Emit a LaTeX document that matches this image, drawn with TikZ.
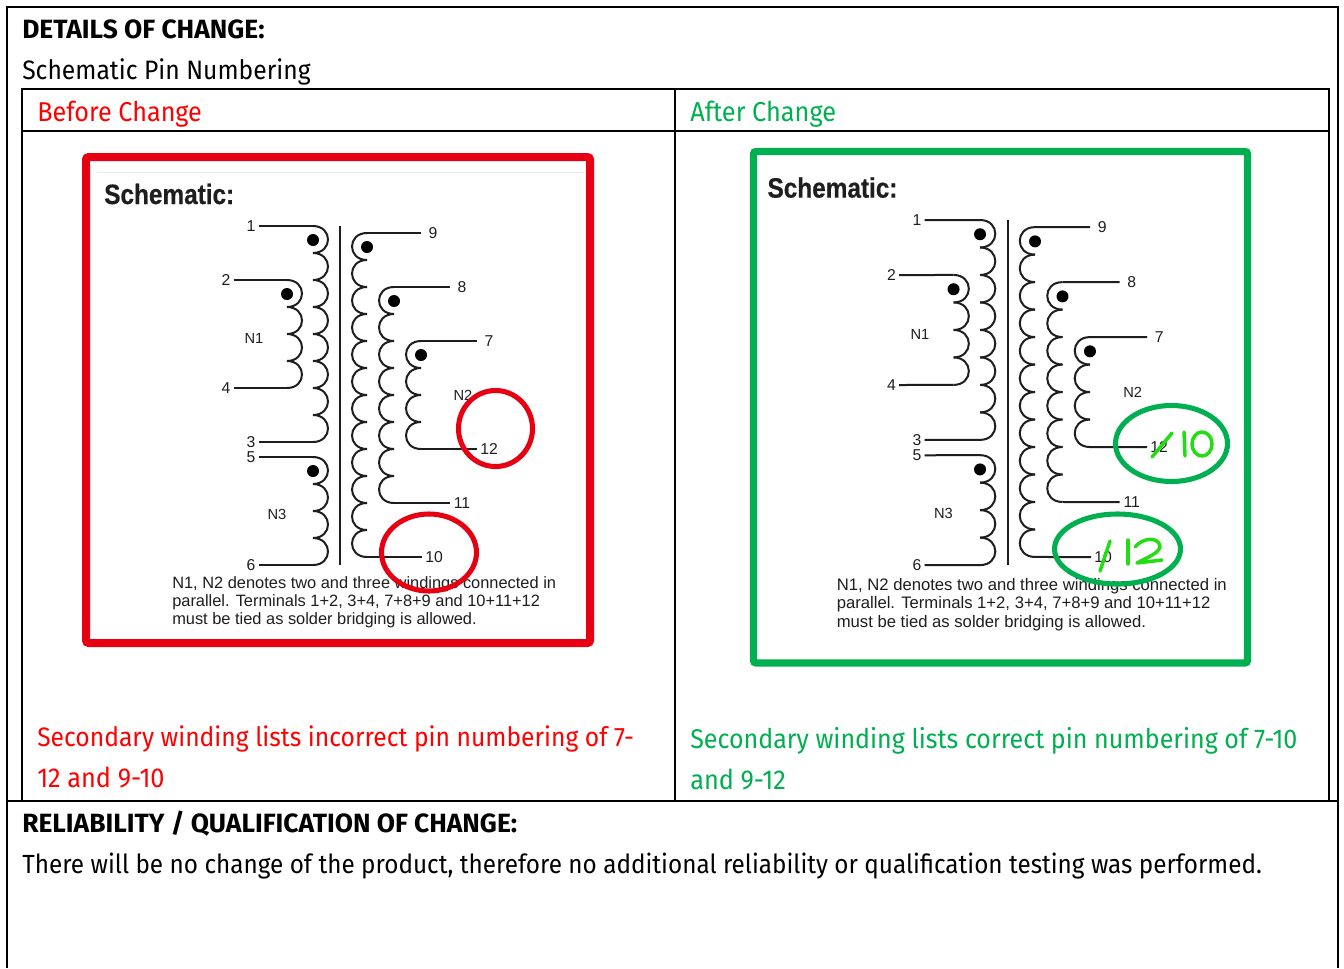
\documentclass[tikz,border=0pt]{standalone}
\usepackage{fontspec}
\setmainfont[FakeStretch=0.925]{Fira Sans}
\newfontfamily\headfont{Fira Sans}
\newfontfamily\schemfont{Liberation Sans}
\newfontfamily\schemhead[FakeStretch=0.87,BoldFeatures={FakeBold=0.5}]{Liberation Sans}
\definecolor{markred}{HTML}{E60012}
\definecolor{markgreen}{HTML}{00B050}
\definecolor{textgreen}{HTML}{00B050}
\definecolor{inkgreen}{HTML}{22DD11}
\definecolor{schemink}{HTML}{1E1E1E}
\tikzset{
  wire/.style={line width=1.5pt,schemink},
  rule/.style={line width=1.5pt,black},
  para/.style={anchor=base west,inner sep=0pt,font=\fontsize{20}{24}\selectfont},
  parabold/.style={para,font=\headfont\fontsize{19.8}{24}\selectfont\bfseries},
  pinlabel/.style={inner sep=0pt,text=schemink,font=\schemfont\fontsize{11.8}{13}\selectfont},
  leftpin/.style={pinlabel,minimum width=11pt},
  rightpin/.style={pinlabel,minimum width=18pt},
  schemtitle/.style={anchor=base west,inner sep=0pt,text=schemink,font=\schemhead\bfseries\fontsize{21}{24}\selectfont},
  schemtext/.style={anchor=base west,inner sep=0pt,text=schemink,font=\schemfont\fontsize{12.3}{14}\selectfont},
  dot/.style={circle,fill=black,inner sep=0pt,minimum size=9pt},
  inkstroke/.style={line width=2.6pt,inkgreen,line cap=round,line join=round},
}
% top pin, bottom pin, cusp x, top y, bumps, side
\newcommand{\windcoil}[6]{
  \draw[wire] (#1) -- (#3,#4);
  \foreach \k in {1,...,#5}
    \draw[wire] (#3,{#4+(\k-1)*27}) .. controls ({#3+#6*20},{#4+(\k-1)*27}) and ({#3+#6*20},{#4+\k*27}) .. (#3,{#4+\k*27});
  \draw[wire] (#3,{#4+#5*27}) -- (#2);
  \node[dot] (#1dot) at ({#3},{#4+14}) {};
}
% one schematic, scope decides prefix and placement
\newcommand{\schematic}{
  \foreach \pin/\px/\py in {1/251/226,3/251/442,2/226/280,4/226/388,5/251/457,6/251/565}
    \node[leftpin] (pin\pin) at (\px,\py) {\pin};
  \foreach \pin/\px/\py in {9/433/233,10/434/557,8/462/287,11/462/503,7/489/341,12/489/449}
    \node[rightpin] (pin\pin) at (\px,\py) {\pin};
  \windcoil{pin1}{pin3}{313}{226}{8}{1}
  \windcoil{pin2}{pin4}{287}{280}{4}{1}
  \windcoil{pin5}{pin6}{313}{457}{4}{1}
  \windcoil{pin9}{pin10}{367}{233}{12}{-1}
  \windcoil{pin8}{pin11}{394}{287}{8}{-1}
  \windcoil{pin7}{pin12}{421}{341}{4}{-1}
  \coordinate (coretop) at (340,226);
  \coordinate (corebot) at (340,565);
  \draw[wire] (coretop) -- (corebot);
  \node[pinlabel,font=\schemfont\fontsize{11}{13}\selectfont] (labn1) at (254,338) {N1};
  \node[pinlabel,font=\schemfont\fontsize{11}{13}\selectfont] (labn3) at (277,514) {N3};
  \node[pinlabel,font=\schemfont\fontsize{11}{13}\selectfont] (labn2) at (463,395) {N2};
}
\begin{document}
\begin{tikzpicture}[x=0.75pt,y=-0.75pt]
\useasboundingbox (0,0) rectangle (1344,968);
\fill[white] (0,0) rectangle (1344,968);
% page frame and table
\draw[rule] (7,968) -- (7,7) -- (1338,7) -- (1338,968);
\draw[rule] (7,801) -- (1338,801);
\draw[rule] (22,89) rectangle (1329,801);
\draw[rule] (22,131) -- (1329,131);
\draw[rule] (675,89) -- (675,801);
% headings
\node[parabold] (dethead) at (22,38) {DETAILS OF CHANGE:};
\node[para] (detsub) at (22,79) {Schematic Pin Numbering};
\node[para,text=red,font=\fontsize{20.4}{24}\selectfont] (beforehead) at (37,121) {Before Change};
\node[para,text=textgreen,font=\fontsize{20.5}{24}\selectfont] (afterhead) at (690,121) {After Change};
% before
\begin{scope}[name prefix=b-]
\draw[line width=0.6pt,black!8] (97,172) -- (585,172);
\node[schemtitle] (title) at (104,204) {Schematic:};
\schematic
\node[schemtext] (note1) at (172,588) {N1, N2 denotes two and three windings connected in};
\node[schemtext] (note2) at (172,606) {parallel. Terminals 1+2, 3+4, 7+8+9 and 10+11+12};
\node[schemtext] (note3) at (172,624) {must be tied as solder bridging is allowed.};
\end{scope}
\draw[line width=6pt,markred,rounded corners=2pt] (86,157) rectangle (590,643);
\draw[line width=3.8pt,markred] (495.5,428.5) ellipse [x radius=37,y radius=38];
\draw[line width=3.8pt,markred] (429,552.5) ellipse [x radius=47.5,y radius=38.5];
\node[para,text=red] (beforeline1) at (37,746) {Secondary winding lists incorrect pin numbering of 7-};
\node[para,text=red,font=\fontsize{20.5}{24}\selectfont] (beforeline2) at (37,787) {12 and 9-10};
% after
\begin{scope}[name prefix=a-,shift={(661.4,-10.07)},scale=1.018]
\node[schemtitle] (title) at (104,204) {Schematic:};
\schematic
\node[schemtext,font=\schemfont\fontsize{12.5}{14}\selectfont] (note1) at (172,590) {N1, N2 denotes two and three windings connected in};
\node[schemtext,font=\schemfont\fontsize{12.5}{14}\selectfont] (note2) at (172,608) {parallel. Terminals 1+2, 3+4, 7+8+9 and 10+11+12};
\node[schemtext,font=\schemfont\fontsize{12.5}{14}\selectfont] (note3) at (172,626) {must be tied as solder bridging is allowed.};
\end{scope}
\draw[line width=5.5pt,markgreen,rounded corners=2pt] (753.5,151.5) rectangle (1247.5,663);
\draw[line width=3.8pt,markgreen] (1171.5,443.5) ellipse [x radius=56,y radius=38];
\draw[line width=3.8pt,markgreen] (1117.5,549) ellipse [x radius=63,y radius=35];
% handwriting
\draw[inkstroke] (1152,457) -- (1172,433);
\draw[inkstroke] (1184,432) -- (1185,456);
\draw[inkstroke] (1202,444) ellipse [x radius=10,y radius=12];
\draw[inkstroke] (1100,571) -- (1110,541);
\draw[inkstroke] (1128,540) -- (1128,564);
\draw[inkstroke] (1135,547) .. controls (1142,538) and (1158,536) .. (1160,546) .. controls (1160,553) and (1146,558) .. (1137,563) -- (1162,560);
\node[para,text=textgreen,font=\fontsize{20.3}{24}\selectfont] (afterline1) at (690,748) {Secondary winding lists correct pin numbering of 7-10};
\node[para,text=textgreen,font=\fontsize{20.5}{24}\selectfont] (afterline2) at (690,789) {and 9-12};
% reliability
\node[parabold] (relhead) at (22,832) {RELIABILITY / QUALIFICATION OF CHANGE:};
\node[para,font=\fontsize{19.7}{24}\selectfont] (relbody) at (22,873) {There will be no change of the product, therefore no additional reliability or qualification testing was performed.};
\end{tikzpicture}
\end{document}
